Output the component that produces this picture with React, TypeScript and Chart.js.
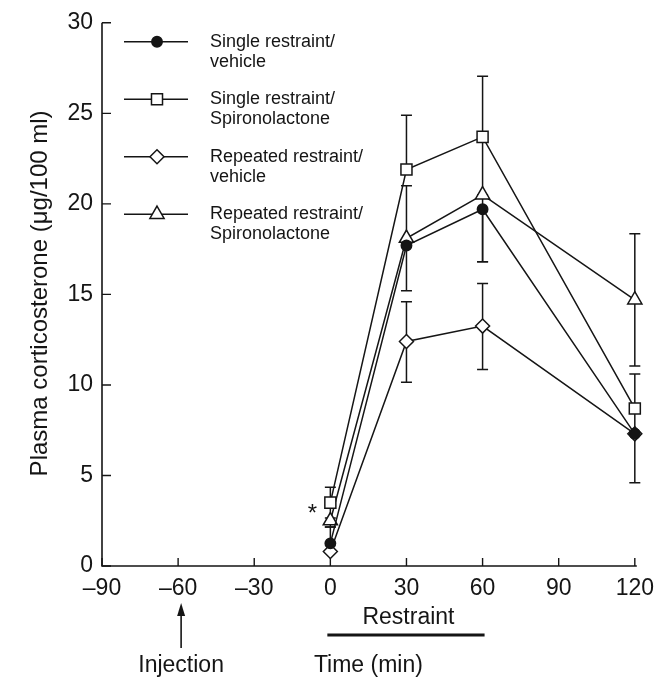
import React, { useEffect, useRef } from 'react';
import { Chart, registerables } from 'chart.js';

Chart.register(...registerables);

// ---- Data ----
const timePoints = [0, 30, 60, 120];

const seriesNames = [
  ['Single restraint/', 'vehicle'],
  ['Single restraint/', 'Spironolactone'],
  ['Repeated restraint/', 'vehicle'],
  ['Repeated restraint/', 'Spironolactone'],
];

const singleVehicle = [1.25, 17.7, 19.7, 7.3];
const singleVehicleErrUp = [0.9, 0, 0, 0];
const singleVehicleErrDown = [0, 0, 2.9, 2.7];

const singleSpiro = [3.5, 21.9, 23.7, 8.7];
const singleSpiroErrUp = [0.85, 3.0, 3.35, 1.9];
const singleSpiroErrDown = [0.85, 0, 3.2, 1.4];

const repeatedVehicle = [0.8, 12.4, 13.25, 7.3];
const repeatedVehicleErrUp = [0, 2.2, 2.35, 0];
const repeatedVehicleErrDown = [0, 2.25, 2.4, 0];

const repeatedSpiro = [2.5, 18.1, 20.5, 14.7];
const repeatedSpiroErrUp = [0, 2.9, 0, 3.65];
const repeatedSpiroErrDown = [0.35, 2.9, 3.7, 3.65];

const xTicks = [-90, -60, -30, 0, 30, 60, 90, 120];
const xTickLabels = ['\u201390', '\u201360', '\u201330', '0', '30', '60', '90', '120'];
const yTicks = [0, 5, 10, 15, 20, 25, 30];

const yTitle = 'Plasma corticosterone (\u03bcg/100 ml)';
const xTitle = 'Time (min)';
const restraintLabel = 'Restraint';
const restraintStart = 0;
const restraintEnd = 60;
const injectionLabel = 'Injection';
const injectionTime = -60;
const significanceMark = '*';

const FONT = '"Liberation Sans", Arial, Helvetica, sans-serif';
const INK = '#151515';

function drawMarker(ctx: CanvasRenderingContext2D, style: string, x: number, y: number, r: number, fill: string) {
  ctx.beginPath();
  if (style === 'circle') {
    ctx.arc(x, y, r, 0, Math.PI * 2);
  } else if (style === 'rect') {
    const s = r * Math.SQRT1_2;
    ctx.rect(x - s, y - s, 2 * s, 2 * s);
  } else if (style === 'rectRot') {
    ctx.moveTo(x, y - r);
    ctx.lineTo(x + r, y);
    ctx.lineTo(x, y + r);
    ctx.lineTo(x - r, y);
    ctx.closePath();
  } else if (style === 'triangle') {
    ctx.moveTo(x, y - r);
    ctx.lineTo(x + r * Math.sin((2 * Math.PI) / 3), y - r * Math.cos((2 * Math.PI) / 3));
    ctx.lineTo(x + r * Math.sin((4 * Math.PI) / 3), y - r * Math.cos((4 * Math.PI) / 3));
    ctx.closePath();
  }
  ctx.fillStyle = fill;
  ctx.fill();
  ctx.stroke();
}

const seriesDefs = [
  { name: seriesNames[0], values: singleVehicle, up: singleVehicleErrUp, down: singleVehicleErrDown, style: 'circle', radius: 5.2, fill: INK },
  { name: seriesNames[1], values: singleSpiro, up: singleSpiroErrUp, down: singleSpiroErrDown, style: 'rect', radius: 7.8, fill: '#ffffff' },
  { name: seriesNames[2], values: repeatedVehicle, up: repeatedVehicleErrUp, down: repeatedVehicleErrDown, style: 'rectRot', radius: 7, fill: '#ffffff' },
  { name: seriesNames[3], values: repeatedSpiro, up: repeatedSpiroErrUp, down: repeatedSpiroErrDown, style: 'triangle', radius: 8.2, fill: '#ffffff' },
];

const overlayPlugin = {
  id: 'overlay',
  beforeDatasetsDraw(chart: any) {
    const ctx = chart.ctx as CanvasRenderingContext2D;
    const xs = chart.scales.x;
    const ys = chart.scales.y;
    const area = chart.chartArea;
    ctx.save();
    ctx.strokeStyle = INK;
    ctx.lineWidth = 1.6;
    ctx.lineCap = 'butt';
    // axes
    ctx.beginPath();
    ctx.moveTo(area.left, area.top);
    ctx.lineTo(area.left, area.bottom);
    ctx.lineTo(area.right + 2, area.bottom);
    ctx.stroke();
    // inward ticks
    ctx.lineWidth = 1.4;
    ctx.beginPath();
    xTicks.forEach((v) => {
      const px = xs.getPixelForValue(v);
      ctx.moveTo(px, area.bottom);
      ctx.lineTo(px, area.bottom - 8);
    });
    yTicks.forEach((v) => {
      const py = ys.getPixelForValue(v);
      ctx.moveTo(area.left, py);
      ctx.lineTo(area.left + 9, py);
    });
    ctx.stroke();

    // error bars
    ctx.lineWidth = 1.5;
    chart.data.datasets.forEach((ds: any, i: number) => {
      const meta = chart.getDatasetMeta(i);
      meta.data.forEach((pt: any, j: number) => {
        const v = ds.values[j];
        const x = pt.x;
        const y = pt.y;
        const cap = 5.5;
        ctx.beginPath();
        if (ds.errUp[j] > 0) {
          const yt = ys.getPixelForValue(v + ds.errUp[j]);
          ctx.moveTo(x, y);
          ctx.lineTo(x, yt);
          ctx.moveTo(x - cap, yt);
          ctx.lineTo(x + cap, yt);
        }
        if (ds.errDown[j] > 0) {
          const yb = ys.getPixelForValue(v - ds.errDown[j]);
          ctx.moveTo(x, y);
          ctx.lineTo(x, yb);
          ctx.moveTo(x - cap, yb);
          ctx.lineTo(x + cap, yb);
        }
        ctx.stroke();
      });
    });
    ctx.restore();
  },
  afterDraw(chart: any) {
    const ctx = chart.ctx as CanvasRenderingContext2D;
    const xs = chart.scales.x;
    const ys = chart.scales.y;
    const area = chart.chartArea;
    ctx.save();
    ctx.fillStyle = INK;
    ctx.strokeStyle = INK;

    // y title
    ctx.save();
    ctx.translate(40, (area.top + area.bottom) / 2 - 1);
    ctx.rotate(-Math.PI / 2);
    ctx.font = `24px ${FONT}`;
    ctx.textAlign = 'center';
    ctx.textBaseline = 'middle';
    ctx.fillText(yTitle, 0, 0);
    ctx.restore();

    // legend
    const legendYs = [41.7, 99.3, 156.7, 214.3];
    seriesDefs.forEach((s, i) => {
      const y = legendYs[i];
      ctx.lineWidth = 1.5;
      ctx.beginPath();
      ctx.moveTo(124, y);
      ctx.lineTo(188, y);
      ctx.stroke();
      drawMarker(ctx, s.style, 157, y, s.radius, s.fill);
      ctx.font = `18px ${FONT}`;
      ctx.textAlign = 'left';
      ctx.textBaseline = 'middle';
      ctx.fillStyle = INK;
      ctx.fillText(s.name[0], 210, y);
      ctx.fillText(s.name[1], 210, y + 20);
    });

    // significance mark
    ctx.font = `24px ${FONT}`;
    ctx.textAlign = 'center';
    ctx.textBaseline = 'alphabetic';
    ctx.fillText(significanceMark, xs.getPixelForValue(0) - 18, ys.getPixelForValue(singleSpiro[0]) + 18);

    // restraint bar
    const rx0 = xs.getPixelForValue(restraintStart);
    const rx1 = xs.getPixelForValue(restraintEnd);
    ctx.font = `23px ${FONT}`;
    ctx.textAlign = 'center';
    ctx.textBaseline = 'middle';
    ctx.fillText(restraintLabel, (rx0 + rx1) / 2 + 2, 618);
    ctx.lineWidth = 2.8;
    ctx.beginPath();
    ctx.moveTo(rx0 - 3, 635);
    ctx.lineTo(rx1 + 2, 635);
    ctx.stroke();

    // x title
    ctx.fillText(xTitle, xs.getPixelForValue(15), 666);

    // injection arrow
    const ax = xs.getPixelForValue(injectionTime) + 3;
    ctx.lineWidth = 1.6;
    ctx.beginPath();
    ctx.moveTo(ax, 648);
    ctx.lineTo(ax, 612);
    ctx.stroke();
    ctx.beginPath();
    ctx.moveTo(ax, 603);
    ctx.lineTo(ax - 4, 616);
    ctx.lineTo(ax + 4, 616);
    ctx.closePath();
    ctx.fill();
    ctx.fillText(injectionLabel, ax, 666);

    ctx.restore();
  },
};

export default function App() {
  const canvasRef = useRef<HTMLCanvasElement | null>(null);

  useEffect(() => {
    if (!canvasRef.current) return;
    const chart = new Chart(canvasRef.current, {
      type: 'line',
      data: {
        datasets: seriesDefs.map((s) => ({
          label: s.name.join(' '),
          data: timePoints.map((t, i) => ({ x: t, y: s.values[i] })),
          values: s.values,
          errUp: s.up,
          errDown: s.down,
          borderColor: INK,
          borderWidth: 1.5,
          pointStyle: s.style,
          pointRadius: s.radius,
          pointHoverRadius: s.radius,
          pointBackgroundColor: s.fill,
          pointBorderColor: INK,
          pointBorderWidth: 1.5,
          fill: false,
          tension: 0,
          clip: false,
        })) as any,
      },
      options: {
        responsive: false,
        animation: false,
        events: [],
        layout: { padding: { top: 19, right: 26, left: 0, bottom: 0 } },
        plugins: {
          legend: { display: false },
          tooltip: { enabled: false },
        },
        scales: {
          x: {
            type: 'linear',
            min: -90,
            max: 120,
            grid: { display: false, drawTicks: false, tickLength: 0 },
            border: { display: false },
            ticks: {
              stepSize: 30,
              autoSkip: false,
              maxRotation: 0,
              padding: 9,
              color: INK,
              font: { family: FONT, size: 23 },
              callback: (v: any) => {
                const i = xTicks.indexOf(Number(v));
                return i >= 0 ? xTickLabels[i] : '';
              },
            },
            afterFit: (scale: any) => {
              scale.height = 114;
            },
          },
          y: {
            type: 'linear',
            min: 0,
            max: 30,
            grid: { display: false, drawTicks: false, tickLength: 0 },
            border: { display: false },
            ticks: {
              stepSize: 5,
              padding: 9,
              color: INK,
              font: { family: FONT, size: 23 },
            },
            afterFit: (scale: any) => {
              scale.width = 102;
            },
          },
        },
      } as any,
      plugins: [overlayPlugin],
    });
    return () => chart.destroy();
  }, []);

  return (
    <div style={{ position: 'absolute', left: 0, top: 0, width: 663, height: 680, background: '#fff' }}>
      <canvas ref={canvasRef} width={663} height={680} />
    </div>
  );
}
